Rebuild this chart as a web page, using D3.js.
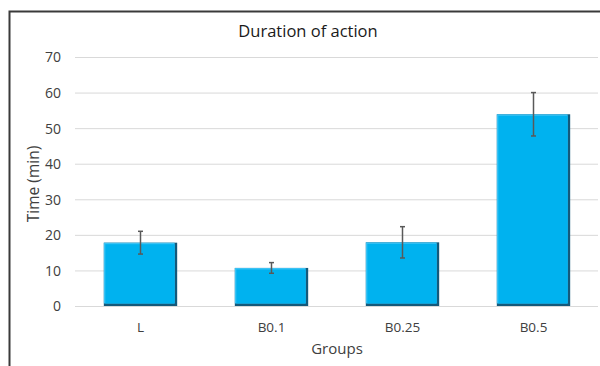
<!DOCTYPE html>
<html><head><meta charset="utf-8">
<script src="https://cdn.jsdelivr.net/npm/d3@7"></script>
<style>html,body{margin:0;padding:0;background:#fff;} svg{display:block;font-family:"Open Sans",sans-serif;}</style>
</head><body><svg id="c" width="600" height="366"></svg>
<script>
const categories = ["L", "B0.1", "B0.25", "B0.5"];
const values = [17.8, 10.7, 17.9, 53.9];
const errors = [3.2, 1.5, 4.4, 6.1];
const yTicks = [0, 10, 20, 30, 40, 50, 60, 70];
const title = "Duration of action";
const xTitle = "Groups";
const yTitle = "Time (min)";

const FONT = "'Open Sans',sans-serif";
const svg = d3.select("#c");
const x = d3.scaleBand().domain(categories).range([75, 599]).paddingInner(0.44).paddingOuter(0.22);
const y = d3.scaleLinear().domain([0, 70]).range([306, 57]);

// outer border
svg.append("path").attr("d", "M9.5,380 L9.5,11.5 L610,11.5").attr("fill", "none").attr("stroke", "#3a3a3a").attr("stroke-width", 2);

// title
svg.append("text").attr("x", 308).attr("y", 37).attr("text-anchor", "middle")
  .attr("font-size", 16.5).attr("fill", "#1a1a1a").text(title);

// grid
svg.append("g").selectAll("line").data(yTicks).join("line")
  .attr("x1", 75).attr("x2", 598).attr("y1", d => y(d) + 0.5).attr("y2", d => y(d) + 0.5)
  .attr("stroke", "#d9d9d9").attr("stroke-width", 1);

// y axis labels
const yAxis = d3.axisLeft(y).tickValues(yTicks).tickSize(0).tickPadding(0);
const gy = svg.append("g").attr("transform", "translate(61,0)").call(yAxis);
gy.select(".domain").remove();
gy.selectAll("text").attr("font-size", 14).attr("fill", "#404040").attr("font-family", FONT).attr("dy", "0.35em");

// x axis labels
const xAxis = d3.axisBottom(x).tickSize(0).tickPadding(0);
const gx = svg.append("g").attr("transform", "translate(0,332)").call(xAxis);
gx.select(".domain").remove();
gx.selectAll("text").attr("font-size", 13.5).attr("fill", "#404040").attr("font-family", FONT).attr("dy", 0);

// axis titles
svg.append("text").attr("x", 337).attr("y", 354).attr("text-anchor", "middle")
  .attr("font-size", 15).attr("fill", "#404040").text(xTitle);
svg.append("text").attr("transform", "translate(38.5,184) rotate(-90)").attr("text-anchor", "middle")
  .attr("font-size", 15.5).attr("fill", "#404040").text(yTitle);

// bars with bevel
const data = categories.map((c, i) => ({c, v: values[i], e: errors[i]}));
const bars = svg.append("g").selectAll("g").data(data).join("g");
bars.append("rect").attr("x", d => x(d.c)).attr("y", d => y(d.v)).attr("width", x.bandwidth())
  .attr("height", d => y(0) - y(d.v)).attr("fill", "#14597a");
bars.append("rect").attr("x", d => x(d.c)).attr("y", d => y(d.v)).attr("width", x.bandwidth() - 2.5)
  .attr("height", d => y(0) - y(d.v) - 2.5).attr("fill", "#3cc2f3");
bars.append("rect").attr("x", d => x(d.c) + 1.5).attr("y", d => y(d.v) + 1.5).attr("width", x.bandwidth() - 4)
  .attr("height", d => y(0) - y(d.v) - 4).attr("fill", "#00b2ef");

// error bars
const eb = svg.append("g").selectAll("g").data(data).join("g")
  .attr("stroke", "#595959").attr("stroke-width", 1.5);
eb.append("line").attr("x1", d => x(d.c) + x.bandwidth() / 2).attr("x2", d => x(d.c) + x.bandwidth() / 2)
  .attr("y1", d => y(d.v + d.e)).attr("y2", d => y(d.v - d.e));
eb.append("line").attr("x1", d => x(d.c) + x.bandwidth() / 2 - 2.5).attr("x2", d => x(d.c) + x.bandwidth() / 2 + 2.5)
  .attr("y1", d => y(d.v + d.e)).attr("y2", d => y(d.v + d.e));
eb.append("line").attr("x1", d => x(d.c) + x.bandwidth() / 2 - 2.5).attr("x2", d => x(d.c) + x.bandwidth() / 2 + 2.5)
  .attr("y1", d => y(d.v - d.e)).attr("y2", d => y(d.v - d.e));
</script></body></html>
